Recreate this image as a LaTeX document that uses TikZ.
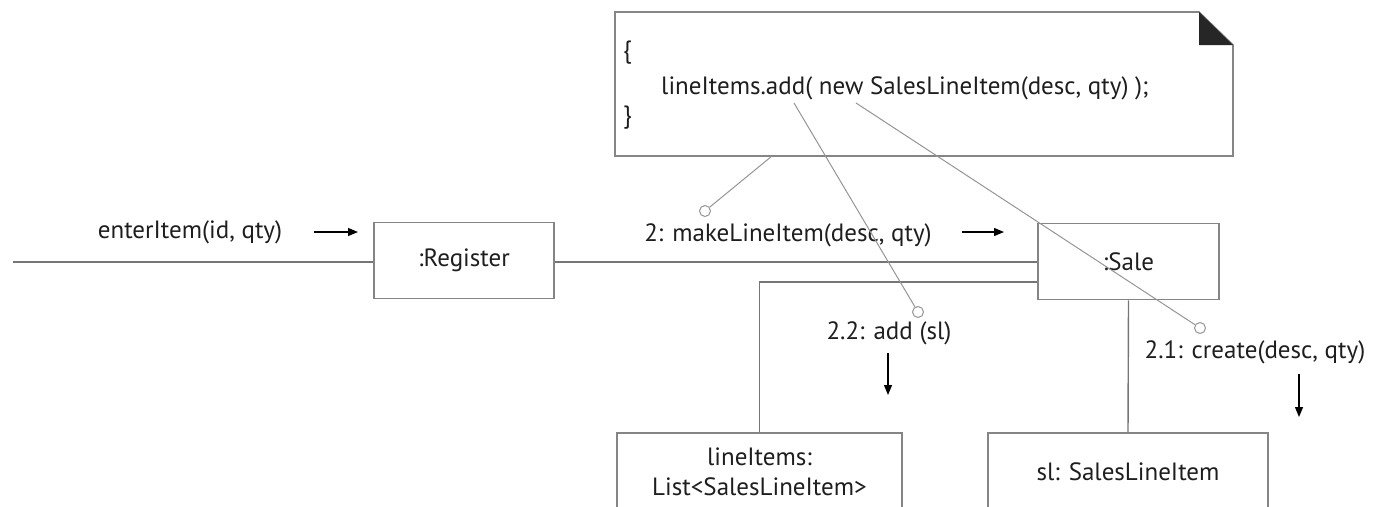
\documentclass[tikz,border=0pt]{standalone}
\usepackage{fontspec}
\setmainfont{PT Sans}
\usetikzlibrary{arrows.meta}
\definecolor{boxgray}{HTML}{858585}
\definecolor{linegray}{HTML}{767676}
\definecolor{notegray}{HTML}{959595}
\definecolor{txt}{HTML}{1E1E1E}
\begin{document}
\begin{tikzpicture}[x=1pt,y=-1pt,
  every node/.style={font=\fontsize{25}{30}\selectfont, text=txt},
  obj/.style={draw=boxgray, line width=1.6pt, minimum height=76pt, inner sep=0pt},
  link/.style={draw=linegray, line width=1.4pt},
  anno/.style={draw=notegray, line width=1pt},
  pin/.style={circle, draw=notegray, line width=1pt, minimum size=11pt, inner sep=0pt, fill=white},
  msg/.style={draw=black, line width=1.2pt, -{Triangle[length=10pt,width=8pt]}},
  plain/.style={inner sep=0pt, anchor=west},
]
\useasboundingbox (0,0) rectangle (1373,506);
\clip (0,0) rectangle (1373,506);

% note
\draw[draw=boxgray, line width=1.6pt, fill=white] (615,12) -- (1199,12) -- (1233,45) -- (1233,156) -- (615,156) -- cycle;
\fill[black!85] (1199,12) -- (1199,45) -- (1233,45) -- cycle;
\node[plain] (ob) at (623,53) {\{};
\node[plain] (code) at (661,88) {lineItems.add( new SalesLineItem(desc, qty) );};
\node[plain] (cb) at (623,118) {\}};

% objects
\node[obj, minimum width=180pt] (reg) at (464,260.5) {:Register};
\node[obj, minimum width=181pt] (sale) at (1128.5,261.5) {:Sale};
\node[obj, minimum width=285pt, minimum height=78pt, align=center, font=\fontsize{25}{30}\selectfont] (li) at (759.5,472) {lineItems:\\List<SalesLineItem>};
\node[obj, minimum width=280pt, minimum height=78pt] (sl) at (1128,472) {sl: SalesLineItem};

% links
\coordinate (inL) at (13,262);
\coordinate (y262) at (0,262);
\coordinate (y282) at (0,282);
\draw[link] (inL) -- (inL -| reg.west);
\draw[link] (reg.east |- y262) -- (sale.west |- y262);
\draw[link] (sale.west |- y282) -| (li.north);
\draw[link] (sale.south) -- (sl.north);

% messages
\node (enter) at (190,232) {enterItem(id, qty)};
\coordinate (a1s) at (314,232); \coordinate (a1e) at (358,232);
\draw[msg] (a1s) -- (a1e);
\node (mk) at (788,235) {2: makeLineItem(desc, qty)};
\coordinate (a2s) at (962,232); \coordinate (a2e) at (1004,232);
\draw[msg] (a2s) -- (a2e);
\node (add) at (889,333) {2.2: add (sl)};
\coordinate (a3s) at (888,353); \coordinate (a3e) at (888,395);
\draw[msg] (a3s) -- (a3e);
\node (create) at (1255,352) {2.1: create(desc, qty)};
\coordinate (a4s) at (1299,374); \coordinate (a4e) at (1299,417);
\draw[msg] (a4s) -- (a4e);

% note anchors
\node[pin] (p1) at (705,211) {};
\node[pin] (p2) at (918,312) {};
\node[pin] (p3) at (1200,328) {};
\coordinate (q1) at (772,156);
\coordinate (q2) at (794,103);
\coordinate (q3) at (856,103);
\draw[anno] (q1) -- (p1);
\draw[anno] (q2) -- (p2);
\draw[anno] (q3) -- (p3);
\end{tikzpicture}
\end{document}
